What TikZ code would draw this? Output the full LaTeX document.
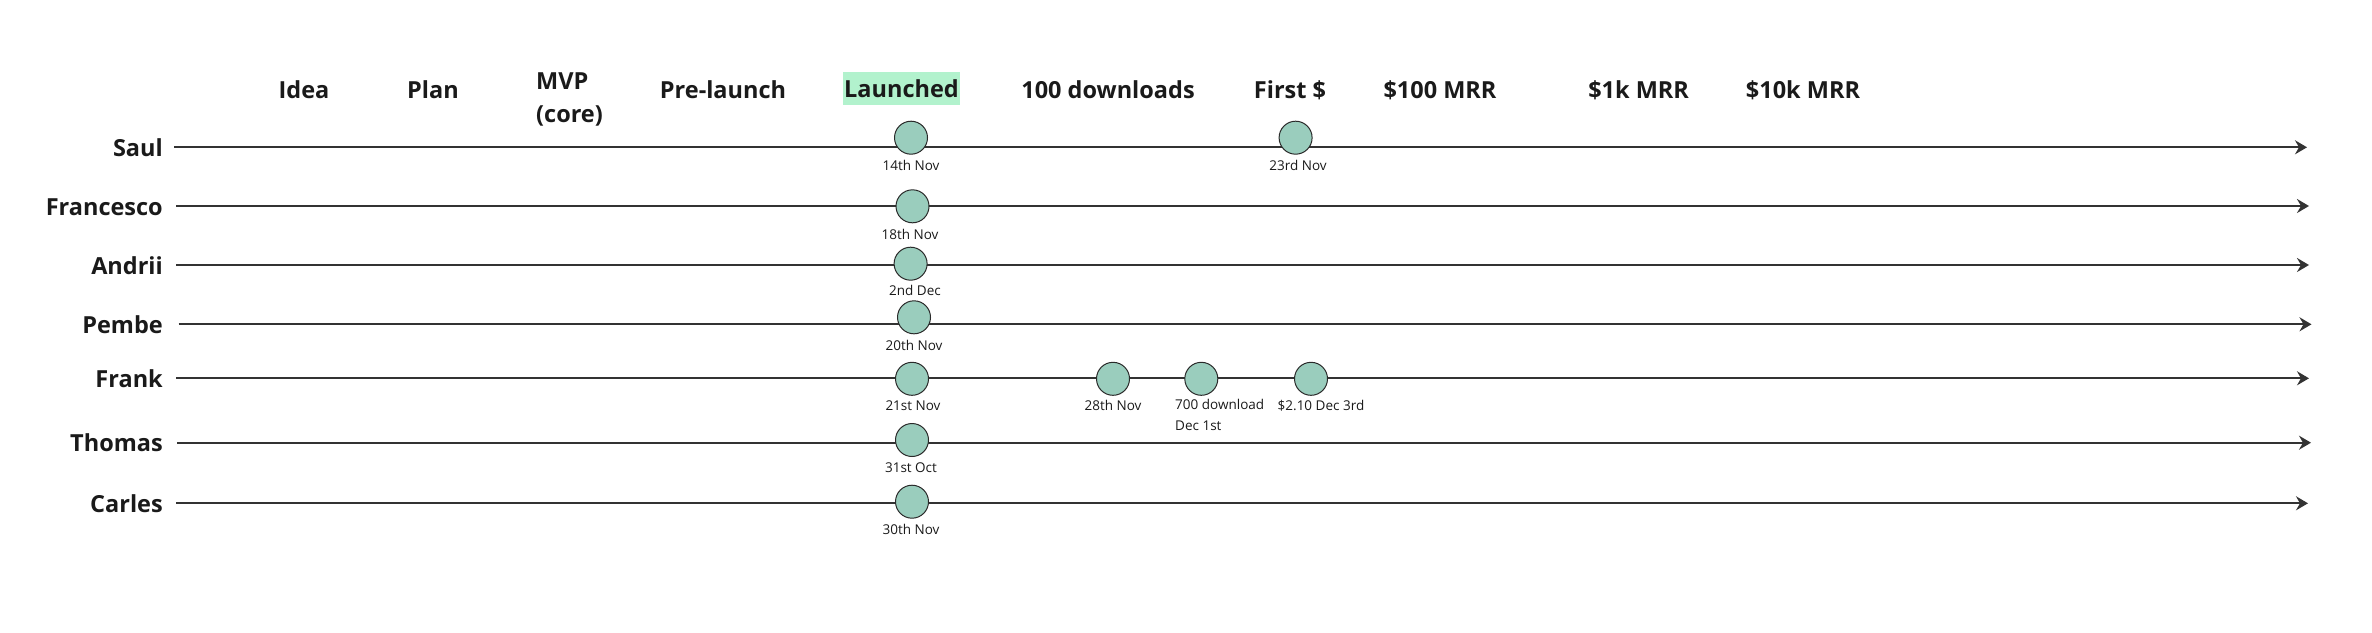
\documentclass[tikz,border=0pt]{standalone}
\usepackage{fontspec}
\setmainfont{Open Sans}
\usetikzlibrary{arrows.meta}
\definecolor{lineC}{HTML}{333333}
\definecolor{dotC}{HTML}{9ACDBD}
\definecolor{dotB}{HTML}{2A2A2A}
\definecolor{hiC}{HTML}{B2F2CD}
\definecolor{txtC}{HTML}{1A1A1A}
\begin{document}
\begin{tikzpicture}[x=1pt,y=-1pt,
  namelbl/.style={anchor=base east,inner sep=0pt,text=txtC,font=\fontsize{23.5}{28}\selectfont\bfseries},
  headlbl/.style={anchor=base,inner sep=0pt,text=txtC,font=\fontsize{23.5}{28}\selectfont\bfseries},
  tl/.style={draw=lineC,line width=2.2pt,-{Stealth[length=12pt,width=14pt,inset=4pt]}},
  dot/.style={circle,draw=dotB,line width=1pt,fill=dotC,minimum size=33pt,inner sep=0pt},
  datelbl/.style={anchor=base,inner sep=0pt,text=txtC,font=\fontsize{13.5}{20}\selectfont}
]
\useasboundingbox (0,0) rectangle (2372,632);
% headers
\node[headlbl] (hIdea) at (304,98) {Idea};
\node[headlbl] (hPlan) at (433,98) {Plan};
\node[anchor=base west,inner sep=0pt,text=txtC,font=\fontsize{23.5}{33}\selectfont\bfseries,align=left] (hMVP) at (536,122) {MVP\\(core)};
\node[headlbl] (hPre) at (723,98) {Pre-launch};
\node[headlbl,fill=hiC,inner xsep=1.5pt,inner ysep=0pt,text height=26pt,text depth=7.3pt] (hLaunch) at (901.5,97.5) {Launched};
\node[headlbl] (h100) at (1108,98) {100 downloads};
\node[headlbl] (hFirst) at (1290,98) {First \$};
\node[headlbl] (hMRR1) at (1440,98) {\$100 MRR};
\node[headlbl] (hMRR2) at (1638.6,98) {\$1k MRR};
\node[headlbl] (hMRR3) at (1803,98) {\$10k MRR};
% names
\node[namelbl] (nSaul) at (163,156.3) {Saul};
\node[namelbl] (nFran) at (163,215) {Francesco};
\node[namelbl] (nAndr) at (163,274) {Andrii};
\node[namelbl] (nPemb) at (163,333.3) {Pembe};
\node[namelbl] (nFrank) at (163,387.3) {Frank};
\node[namelbl] (nThom) at (163,451.7) {Thomas};
\node[namelbl] (nCarl) at (163,512.3) {Carles};
% end coordinates
\coordinate (eSaul) at (2307,147.3);
\coordinate (eFran) at (2309,206);
\coordinate (eAndr) at (2309,265);
\coordinate (ePemb) at (2311.5,324.3);
\coordinate (eFrank) at (2309,378.3);
\coordinate (eThom) at (2311,442.7);
\coordinate (eCarl) at (2308,503.3);
% lines
\draw[tl] (174,147.3) -- (eSaul);
\draw[tl] (176,206) -- (eFran);
\draw[tl] (176,265) -- (eAndr);
\draw[tl] (178.5,324.3) -- (ePemb);
\draw[tl] (176,378.3) -- (eFrank);
\draw[tl] (177,442.7) -- (eThom);
\draw[tl] (176,503.3) -- (eCarl);
% dots
\node[dot] (dSaul1) at (911,137.7) {};
\node[dot] (dSaul2) at (1295.6,137.7) {};
\node[dot] (dFran) at (912.5,206.3) {};
\node[dot] (dAndr) at (910.6,263.7) {};
\node[dot] (dPemb) at (914,317.3) {};
\node[dot] (dFrank1) at (912,378.8) {};
\node[dot] (dFrank2) at (1113,378.8) {};
\node[dot] (dFrank3) at (1201.3,378.8) {};
\node[dot] (dFrank4) at (1311,378.8) {};
\node[dot] (dThom) at (912,440) {};
\node[dot] (dCarl) at (912,501.7) {};
% dates
\node[datelbl] (lSaul1) at (911,170.7) {14th Nov};
\node[datelbl] (lSaul2) at (1298,170.7) {23rd Nov};
\node[datelbl] (lFran) at (910,239.3) {18th Nov};
\node[datelbl] (lAndr) at (915,295.7) {2nd Dec};
\node[datelbl] (lPemb) at (914,350) {20th Nov};
\node[datelbl] (lFrank1) at (913,410) {21st Nov};
\node[datelbl] (lFrank2) at (1113,410) {28th Nov};
\node[anchor=base west,inner sep=0pt,text=txtC,font=\fontsize{13.5}{21}\selectfont,align=left] (lFrank3) at (1175,430.7) {700 download\\Dec 1st};
\node[datelbl] (lFrank4) at (1321,410) {\$2.10 Dec 3rd};
\node[datelbl] (lThom) at (911,472.3) {31st Oct};
\node[datelbl] (lCarl) at (911,534.3) {30th Nov};
\end{tikzpicture}
\end{document}
